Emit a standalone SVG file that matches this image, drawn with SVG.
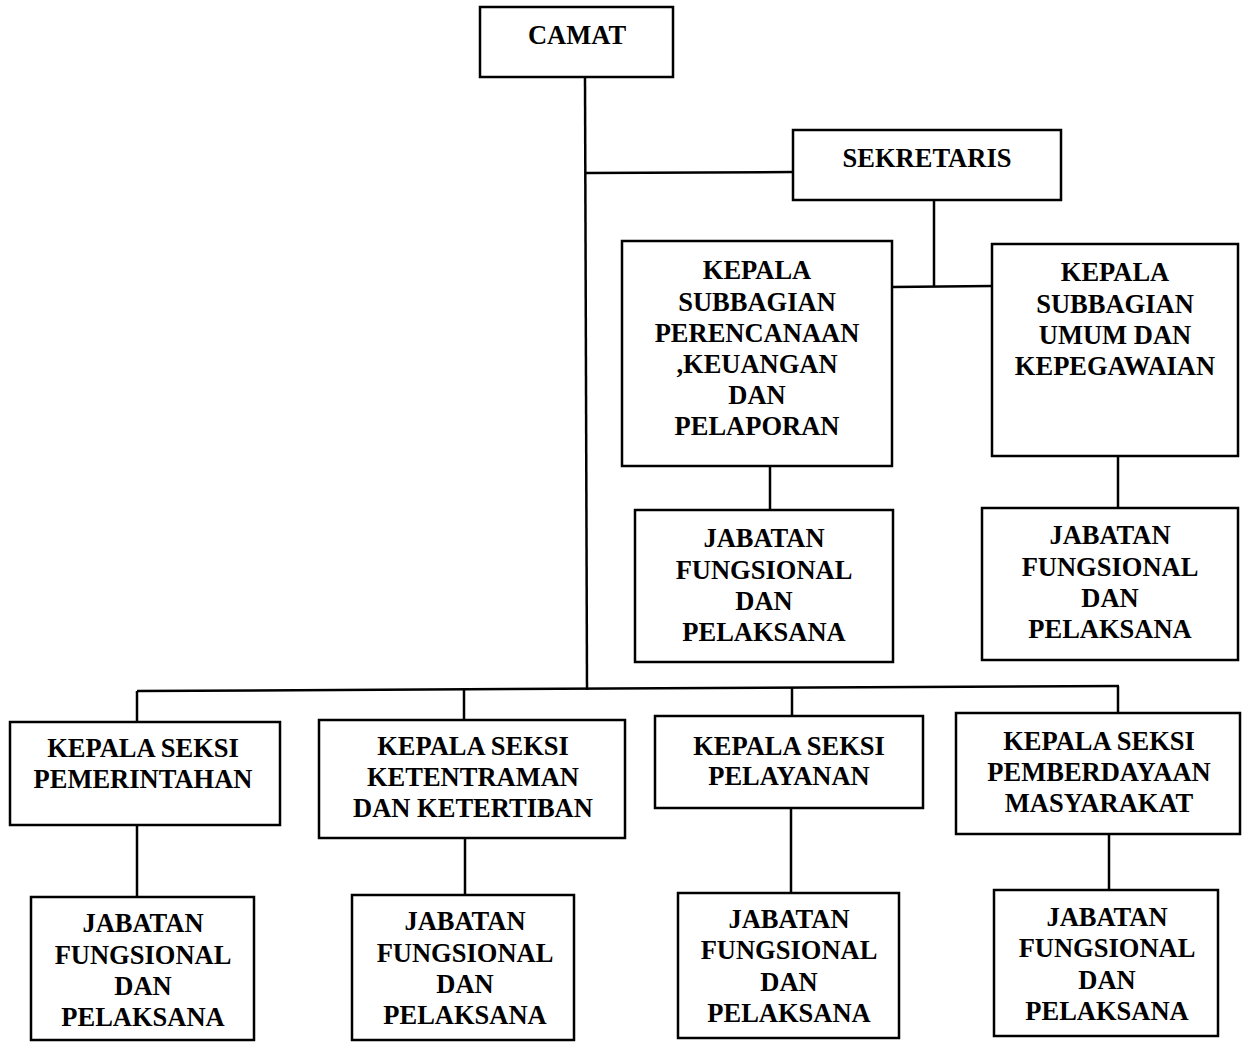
<svg xmlns="http://www.w3.org/2000/svg" width="1244" height="1042" viewBox="0 0 1244 1042">
<style>
rect{fill:#fff;stroke:#000;stroke-width:2.5}
.c line{stroke:#000;stroke-width:2.5}
text{font-family:"Liberation Serif","Times New Roman",serif;font-weight:bold;font-size:26.5px;fill:#000;text-anchor:middle}
</style>
<rect x="0" y="0" width="1244" height="1042" style="stroke:none"/>
<g class="c" id="connectors">
<line x1="585" y1="77" x2="587" y2="690"/>
<line x1="586" y1="173" x2="793" y2="172"/>
<line x1="934" y1="200" x2="934" y2="287"/>
<line x1="892" y1="287" x2="992" y2="286"/>
<line x1="770" y1="466" x2="770" y2="510"/>
<line x1="1118" y1="456" x2="1118" y2="508"/>
<line x1="137" y1="691" x2="1119" y2="686"/>
<line x1="137" y1="691" x2="137" y2="722"/>
<line x1="464" y1="690" x2="464" y2="720"/>
<line x1="792" y1="688" x2="792" y2="716"/>
<line x1="1118" y1="686" x2="1118" y2="713"/>
<line x1="137" y1="825" x2="137" y2="897"/>
<line x1="465" y1="838" x2="465" y2="895"/>
<line x1="791" y1="808" x2="791" y2="893"/>
<line x1="1109" y1="834" x2="1109" y2="890"/>
</g>
<g id="camat"><rect x="480" y="7" width="193" height="70"/><text x="577" y="44">CAMAT</text></g>
<g id="sekretaris"><rect x="793" y="130" width="268" height="70"/><text x="927" y="167">SEKRETARIS</text></g>
<g id="subbag-perencanaan"><rect x="622" y="241" width="270" height="225"/>
<text x="757" y="279">KEPALA</text><text x="757" y="311">SUBBAGIAN</text><text x="757" y="342">PERENCANAAN</text><text x="757" y="373">,KEUANGAN</text><text x="757" y="404">DAN</text><text x="757" y="435">PELAPORAN</text></g>
<g id="subbag-umum"><rect x="992" y="244" width="246" height="212"/>
<text x="1115" y="281">KEPALA</text><text x="1115" y="313">SUBBAGIAN</text><text x="1115" y="344">UMUM DAN</text><text x="1115" y="375">KEPEGAWAIAN</text></g>
<g id="jf-perencanaan"><rect x="635" y="510" width="258" height="152"/>
<text x="764" y="547">JABATAN</text><text x="764" y="579">FUNGSIONAL</text><text x="764" y="610">DAN</text><text x="764" y="641">PELAKSANA</text></g>
<g id="jf-umum"><rect x="982" y="508" width="256" height="152"/>
<text x="1110" y="544">JABATAN</text><text x="1110" y="576">FUNGSIONAL</text><text x="1110" y="607">DAN</text><text x="1110" y="638">PELAKSANA</text></g>
<g id="seksi-pemerintahan"><rect x="10" y="722" width="270" height="103"/>
<text x="143" y="757">KEPALA SEKSI</text><text x="143" y="788">PEMERINTAHAN</text></g>
<g id="seksi-ketentraman"><rect x="319" y="720" width="306" height="118"/>
<text x="473" y="755">KEPALA SEKSI</text><text x="473" y="786">KETENTRAMAN</text><text x="473" y="817">DAN KETERTIBAN</text></g>
<g id="seksi-pelayanan"><rect x="655" y="716" width="268" height="92"/>
<text x="789" y="755">KEPALA SEKSI</text><text x="789" y="785">PELAYANAN</text></g>
<g id="seksi-pemberdayaan"><rect x="956" y="713" width="284" height="121"/>
<text x="1099" y="750">KEPALA SEKSI</text><text x="1099" y="781">PEMBERDAYAAN</text><text x="1099" y="812">MASYARAKAT</text></g>
<g id="jf-pemerintahan"><rect x="31" y="897" width="223" height="143"/>
<text x="143" y="932">JABATAN</text><text x="143" y="964">FUNGSIONAL</text><text x="143" y="995">DAN</text><text x="143" y="1026">PELAKSANA</text></g>
<g id="jf-ketentraman"><rect x="352" y="895" width="222" height="145"/>
<text x="465" y="930">JABATAN</text><text x="465" y="962">FUNGSIONAL</text><text x="465" y="993">DAN</text><text x="465" y="1024">PELAKSANA</text></g>
<g id="jf-pelayanan"><rect x="678" y="893" width="221" height="145"/>
<text x="789" y="928">JABATAN</text><text x="789" y="959">FUNGSIONAL</text><text x="789" y="991">DAN</text><text x="789" y="1022">PELAKSANA</text></g>
<g id="jf-pemberdayaan"><rect x="994" y="890" width="224" height="146"/>
<text x="1107" y="926">JABATAN</text><text x="1107" y="957">FUNGSIONAL</text><text x="1107" y="989">DAN</text><text x="1107" y="1020">PELAKSANA</text></g>
</svg>
